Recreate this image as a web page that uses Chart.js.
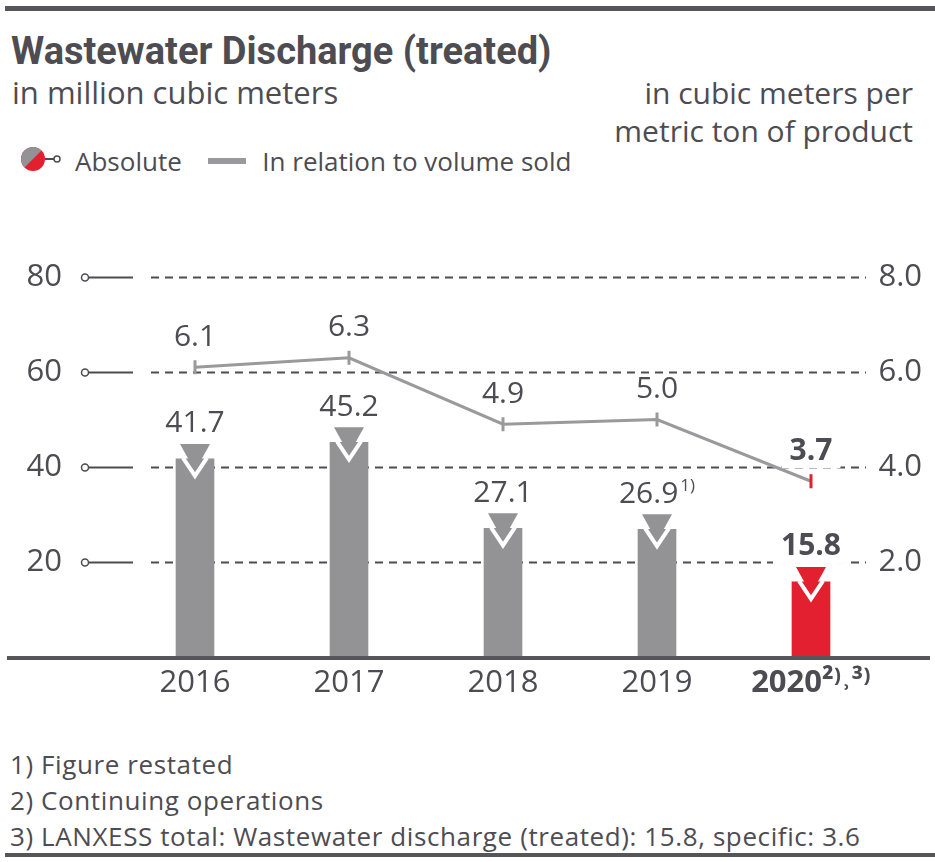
<!DOCTYPE html>
<html>
<head>
<meta charset="utf-8">
<script src="https://cdn.jsdelivr.net/npm/chart.js@4"></script>
<style>
  html,body{margin:0;padding:0;background:#fff;}
  body{width:935px;height:862px;position:relative;overflow:hidden;font-family:"Open Sans",Roboto,sans-serif;color:#4d4c52;}
  .abs{position:absolute;white-space:nowrap;}
  #rule{left:5px;top:6px;width:930px;height:5px;background:#56555a;}
  #rule2{left:5px;top:853px;width:930px;height:4px;background:#56555a;}
  #title{left:11px;top:32px;font-family:Roboto,"Liberation Sans",sans-serif;font-size:38px;line-height:38px;font-weight:bold;color:#4d4c52;}
  .sub{font-size:31px;line-height:38px;}
  #subl{left:12px;top:73px;}
  #subr{right:22px;top:74px;text-align:right;font-size:30px;}
  #legend{left:18px;top:143px;font-size:26px;line-height:30px;}
  #legend span{display:inline-block;vertical-align:middle;}
  #foot{left:10px;top:746px;font-size:26px;line-height:36px;letter-spacing:0.6px;}
  canvas{position:absolute;left:0;top:0;}
</style>
</head>
<body>
<div class="abs" id="rule"></div>
<div class="abs" id="title">Wastewater Discharge (treated)</div>
<div class="abs sub" id="subl">in million cubic meters</div>
<div class="abs sub" id="subr">in cubic meters per<br>metric ton of product</div>
<div class="abs" id="legend">
  <span><svg width="50" height="30" viewBox="0 0 50 30">
    <defs><clipPath id="c"><circle cx="15" cy="15" r="12"/></clipPath></defs>
    <g clip-path="url(#c)">
      <rect x="0" y="0" width="30" height="30" fill="#e2202f"/>
      <polygon points="0,0 30,0 0,30" fill="#939295"/>
    </g>
    <line x1="27" y1="15" x2="36" y2="15" stroke="#4d4c52" stroke-width="2"/>
    <circle cx="39" cy="15" r="3" fill="#fff" stroke="#4d4c52" stroke-width="1.5"/>
  </svg></span><span style="margin-left:7px">Absolute</span>
  <span style="margin-left:19px;width:38px;height:6px;background:#9a999b"></span>
  <span style="margin-left:10px">In relation to volume sold</span>
</div>
<div class="abs" id="foot">1) Figure restated<br>2) Continuing operations<br>3) LANXESS total: Wastewater discharge (treated): 15.8, specific: 3.6</div>
<div class="abs" id="rule2"></div>
<canvas id="chart" width="935" height="862"></canvas>
<script>
const years = ['2016', '2017', '2018', '2019', '2020²⁾˒³⁾'];
const absolute = [41.7, 45.2, 27.1, 26.9, 15.8];
const absoluteLabels = ['41.7', '45.2', '27.1', '26.9', '15.8'];
const absoluteNotes = ['', '', '', '1)', ''];
const specific = [6.1, 6.3, 4.9, 5.0, 3.7];
const specificLabels = ['6.1', '6.3', '4.9', '5.0', '3.7'];
const leftTicks = [20, 40, 60, 80];
const rightTicks = [2, 4, 6, 8];

const GRAY = '#939295', RED = '#e2202f', LINE = '#9a999b', DARK = '#4d4c52';
const barColors = absolute.map((v, i) => i === absolute.length - 1 ? RED : GRAY);
const pointColors = specific.map((v, i) => i === specific.length - 1 ? RED : LINE);
const FONT = '"Open Sans", Roboto, sans-serif';

function drawLabel(ctx, x, y, text, bold, note) {
  ctx.save();
  const main = (bold ? 'bold ' : '') + '30px ' + FONT;
  ctx.font = main;
  const w = ctx.measureText(text).width;
  ctx.font = '17px ' + FONT;
  const nw = note ? ctx.measureText(note).width + 2 : 0;
  const total = w + nw;
  const x0 = x - total / 2;
  if (bold) {
    ctx.fillStyle = '#fff';
    ctx.fillRect(x0 - 8, y - 17, total + 16, 34);
  }
  ctx.fillStyle = DARK;
  ctx.textBaseline = 'middle';
  ctx.textAlign = 'left';
  ctx.font = main;
  ctx.fillText(text, x0, y);
  if (note) {
    ctx.font = '17px ' + FONT;
    ctx.fillText(note, x0 + w + 2, y - 8);
  }
  ctx.restore();
}

const overlay = {
  id: 'overlay',
  beforeDatasetsDraw(chart) {
    const ctx = chart.ctx, y = chart.scales.y;
    ctx.save();
    ctx.strokeStyle = DARK;
    leftTicks.forEach(v => {
      const py = Math.round(y.getPixelForValue(v)) + 0.5;
      ctx.lineWidth = 2;
      ctx.setLineDash([]);
      ctx.beginPath(); ctx.moveTo(89, py); ctx.lineTo(133, py); ctx.stroke();
      ctx.lineWidth = 1.5;
      ctx.beginPath(); ctx.arc(85, py, 3.5, 0, Math.PI * 2);
      ctx.fillStyle = '#fff'; ctx.fill(); ctx.stroke();
      ctx.lineWidth = 2;
      ctx.setLineDash([8, 6]);
      ctx.beginPath(); ctx.moveTo(151, py); ctx.lineTo(866, py); ctx.stroke();
    });
    ctx.restore();
  },
  afterDatasetsDraw(chart) {
    const ctx = chart.ctx;
    const y0 = chart.scales.y.getPixelForValue(0);
    const barMeta = chart.getDatasetMeta(1);
    barMeta.data.forEach((el, i) => {
      const cx = el.x, top = el.y;
      ctx.save();
      ctx.fillStyle = barColors[i];
      ctx.beginPath();
      ctx.moveTo(cx - 15, top - 15); ctx.lineTo(cx + 15, top - 15); ctx.lineTo(cx, top + 12); ctx.closePath();
      ctx.fill();
      ctx.strokeStyle = '#fff'; ctx.lineWidth = 4; ctx.lineJoin = 'miter';
      ctx.beginPath();
      ctx.moveTo(cx - 12, top - 1); ctx.lineTo(cx, top + 17); ctx.lineTo(cx + 12, top - 1);
      ctx.stroke();
      ctx.restore();
      drawLabel(ctx, cx, top - 35, absoluteLabels[i], i === absolute.length - 1, absoluteNotes[i]);
    });
    const lineMeta = chart.getDatasetMeta(0);
    lineMeta.data.forEach((pt, i) => {
      drawLabel(ctx, pt.x, pt.y - 30, specificLabels[i], i === specific.length - 1, '');
    });
    ctx.save();
    ctx.fillStyle = '#56555a';
    ctx.fillRect(7, Math.round(y0) - 1, 923, 4);
    ctx.restore();
  }
};

new Chart(document.getElementById('chart'), {
  data: {
    labels: years,
    datasets: [
      {
        type: 'line', label: 'In relation to volume sold', data: specific, yAxisID: 'y1', order: 0,
        borderColor: LINE, borderWidth: 3, tension: 0,
        pointStyle: 'line', rotation: 90, pointRadius: 7, pointBorderWidth: 3,
        pointBorderColor: pointColors, pointBackgroundColor: pointColors
      },
      {
        type: 'bar', label: 'Absolute', data: absolute, yAxisID: 'y', order: 1,
        backgroundColor: barColors, barThickness: 38
      }
    ]
  },
  options: {
    responsive: false, animation: false, devicePixelRatio: 1,
    layout: { padding: { top: 277, bottom: 145, left: 0, right: 0 } },
    plugins: { legend: { display: false }, tooltip: { enabled: false } },
    scales: {
      x: {
        grid: { display: false, drawTicks: false }, border: { display: false },
        ticks: {
          padding: 8, color: DARK,
          font: c => ({ family: FONT, size: 31, weight: c.index === years.length - 1 ? 'bold' : 'normal' })
        },
        afterFit: s => { s.height = 60; }
      },
      y: {
        position: 'left', min: 0, max: 80,
        grid: { display: false, drawTicks: false }, border: { display: false },
        afterBuildTicks: s => { s.ticks = leftTicks.map(v => ({ value: v })); },
        ticks: { padding: 56, color: DARK, font: { family: FONT, size: 31 } },
        afterFit: s => { s.width = 118; }
      },
      y1: {
        position: 'right', min: 0, max: 8,
        grid: { display: false, drawTicks: false }, border: { display: false },
        afterBuildTicks: s => { s.ticks = rightTicks.map(v => ({ value: v })); },
        ticks: { mirror: true, crossAlign: 'near', padding: 34, color: DARK, font: { family: FONT, size: 31 }, callback: v => v.toFixed(1) },
        afterFit: s => { s.width = 47; }
      }
    }
  },
  plugins: [overlay]
});
</script>
</body>
</html>
